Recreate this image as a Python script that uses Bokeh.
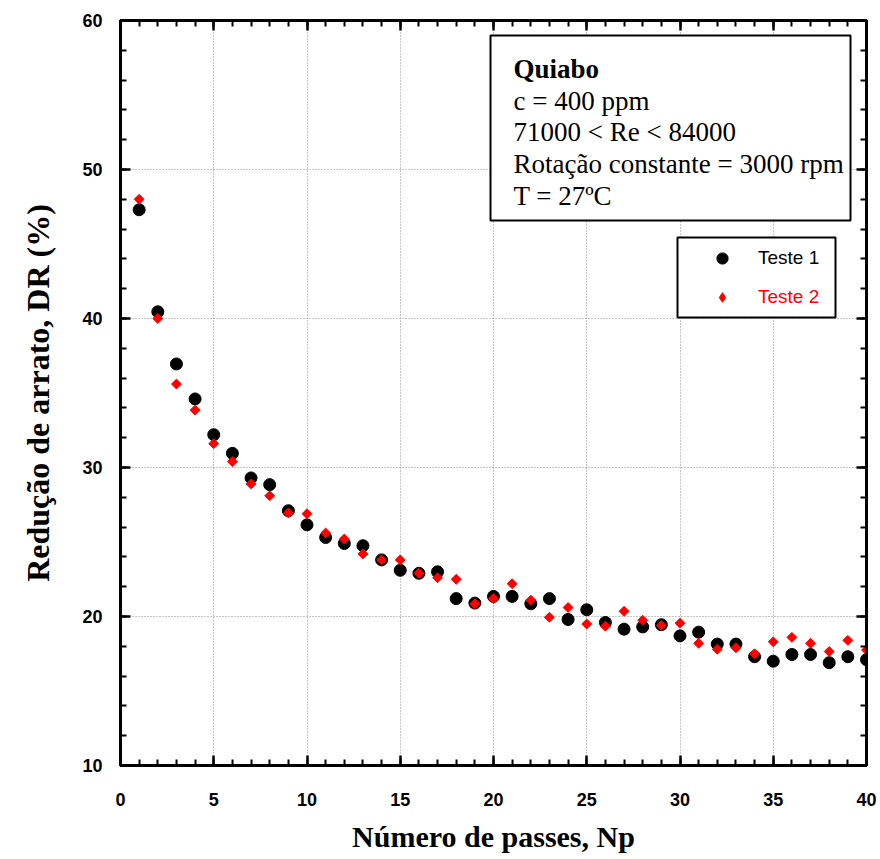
import math
from bokeh.plotting import figure
from bokeh.models import (Range1d, LinearAxis, Label, Legend, LegendItem,
                          BoxAnnotation, SingleIntervalTicker)
from bokeh.embed import file_html
from bokeh.resources import INLINE

# ---------------- data ----------------
passes = list(range(1, 41))
teste1 = [47.3, 40.45, 36.95, 34.6, 32.2, 30.95, 29.3, 28.85, 27.1, 26.15,
          25.3, 24.9, 24.75, 23.8, 23.1, 22.9, 23.0, 21.2, 20.9, 21.35,
          21.35, 20.85, 21.2, 19.8, 20.45, 19.6, 19.15, 19.3, 19.45, 18.7,
          18.95, 18.15, 18.15, 17.3, 17.0, 17.45, 17.45, 16.9, 17.3, 17.1]
teste2 = [48.0, 40.0, 35.6, 33.85, 31.6, 30.4, 28.9, 28.1, 26.95, 26.9,
          25.6, 25.2, 24.2, 23.8, 23.8, 22.9, 22.6, 22.5, 20.85, 21.2,
          22.2, 21.1, 19.95, 20.6, 19.5, 19.35, 20.35, 19.75, 19.4, 19.55,
          18.2, 17.8, 17.9, 17.5, 18.3, 18.6, 18.2, 17.65, 18.4, 17.75]
x_ticks = [0, 5, 10, 15, 20, 25, 30, 35, 40]
y_ticks = [10, 20, 30, 40, 50, 60]
series_names = ["Teste 1", "Teste 2"]
info_title = "Quiabo"
info_lines = ["c = 400 ppm", "71000 < Re < 84000",
              "Rotação constante = 3000 rpm", "T = 27ºC"]
x_title = "Número de passes, Np"
y_title = "Redução de arrato, DR (%)"

# ---------------- layout ----------------
W, H = 880, 859
FL, FR, FT, FB = 120, 866, 20, 765
XMIN, XMAX, YMIN, YMAX = 0, 40, 10, 60


def px2x(px):
    return XMIN + (px - FL) / (FR - FL) * (XMAX - XMIN)


def py2y(py):
    return YMAX - (py - FT) / (FB - FT) * (YMAX - YMIN)


p = figure(width=W, height=H, x_range=Range1d(XMIN, XMAX), y_range=Range1d(YMIN, YMAX),
           output_backend="svg", toolbar_location=None,
           min_border_left=FL, min_border_right=W - FR,
           min_border_top=FT, min_border_bottom=H - FB)
p.background_fill_color = "white"
p.border_fill_color = "white"
p.outline_line_color = "black"
p.outline_line_width = 3

bottom_axis = p.below[0]
left_axis = p.left[0]
bottom_axis.ticker = SingleIntervalTicker(interval=5, num_minor_ticks=5)
left_axis.ticker = SingleIntervalTicker(interval=10, num_minor_ticks=5)

top_axis = LinearAxis(ticker=SingleIntervalTicker(interval=5, num_minor_ticks=5))
right_axis = LinearAxis(ticker=SingleIntervalTicker(interval=10, num_minor_ticks=5))
p.add_layout(top_axis, "above")
p.add_layout(right_axis, "right")

for ax in [bottom_axis, left_axis, top_axis, right_axis]:
    ax.axis_line_width = 3
    ax.axis_line_color = "black"
    ax.major_tick_in = 10
    ax.major_tick_out = 0
    ax.minor_tick_in = 6
    ax.minor_tick_out = 0
    ax.major_tick_line_width = 2.5
    ax.minor_tick_line_width = 2
    ax.major_tick_line_color = "black"
    ax.minor_tick_line_color = "black"
    ax.major_label_text_font = "Liberation Sans"
    ax.major_label_text_font_style = "bold"
    ax.major_label_text_font_size = "18px"
    ax.major_label_text_color = "black"
    ax.axis_label_text_font = "Liberation Serif"
    ax.axis_label_text_font_style = "bold"
    ax.axis_label_text_font_size = "30px"
    ax.axis_label_text_color = "black"

# mirrored axes: ticks only, no labels
top_axis.major_label_overrides = {v: "" for v in x_ticks}
right_axis.major_label_overrides = {v: "" for v in y_ticks}
for ax in [top_axis, right_axis]:
    ax.major_label_text_font_size = "0px"
    ax.major_label_standoff = 0

bottom_axis.major_label_standoff = 27
left_axis.major_label_standoff = 18
bottom_axis.axis_label = x_title
bottom_axis.axis_label_standoff = 11
left_axis.axis_label = y_title
left_axis.axis_label_text_font_size = "32px"
left_axis.axis_label_standoff = 23

for g in [p.xgrid[0], p.ygrid[0]]:
    g.grid_line_color = "#8a8a8a"
    g.grid_line_dash = "1 2"
    g.grid_line_width = 1

# ---------------- data marks ----------------
r1 = p.scatter(passes, teste1, marker="circle", size=12, color="black")
r2 = p.scatter(passes, teste2, marker="square", angle=math.pi / 4, size=7, color="red")
# renderer used only for the legend sample (size 0 -> nothing drawn in the plot)
r2_leg = p.scatter(passes, teste2, marker="diamond", size=0, color="red")

# ---------------- info box ----------------
p.add_layout(BoxAnnotation(left=px2x(490), right=px2x(850), top=py2y(35), bottom=py2y(220),
                           fill_color="white", fill_alpha=1, line_color="black",
                           line_alpha=1, line_width=2))
p.add_layout(Label(x=px2x(513), y=py2y(68), text=info_title, text_font="Liberation Serif",
                   text_font_style="bold", text_font_size="27px", text_color="black",
                   text_baseline="alphabetic"))
for i, t in enumerate(info_lines):
    p.add_layout(Label(x=px2x(513), y=py2y(100 + i * 31.7), text=t, text_font="Liberation Serif",
                       text_font_size="27px", text_color="black", text_baseline="alphabetic"))

# ---------------- legend ----------------
p.add_layout(BoxAnnotation(left=px2x(677), right=px2x(835), top=py2y(237), bottom=py2y(317),
                           fill_color="white", fill_alpha=1, line_color="black",
                           line_alpha=1, line_width=2))


def make_legend(label, rend, color, row_center, gh):
    return Legend(items=[LegendItem(label=label, renderers=[rend])],
                  location=(708 - FL, FB - (row_center + gh / 2)),
                  border_line_color=None, background_fill_alpha=0,
                  padding=0, margin=0, spacing=0,
                  glyph_width=28, glyph_height=gh, label_height=gh,
                  label_standoff=22, label_text_font="Liberation Sans",
                  label_text_font_size="19px", label_text_color=color)


p.add_layout(make_legend(series_names[0], r1, "black", 258, 28))
p.add_layout(make_legend(series_names[1], r2_leg, "red", 297, 24))

with open("out.html", "w") as f:
    f.write(file_html(p, INLINE))
